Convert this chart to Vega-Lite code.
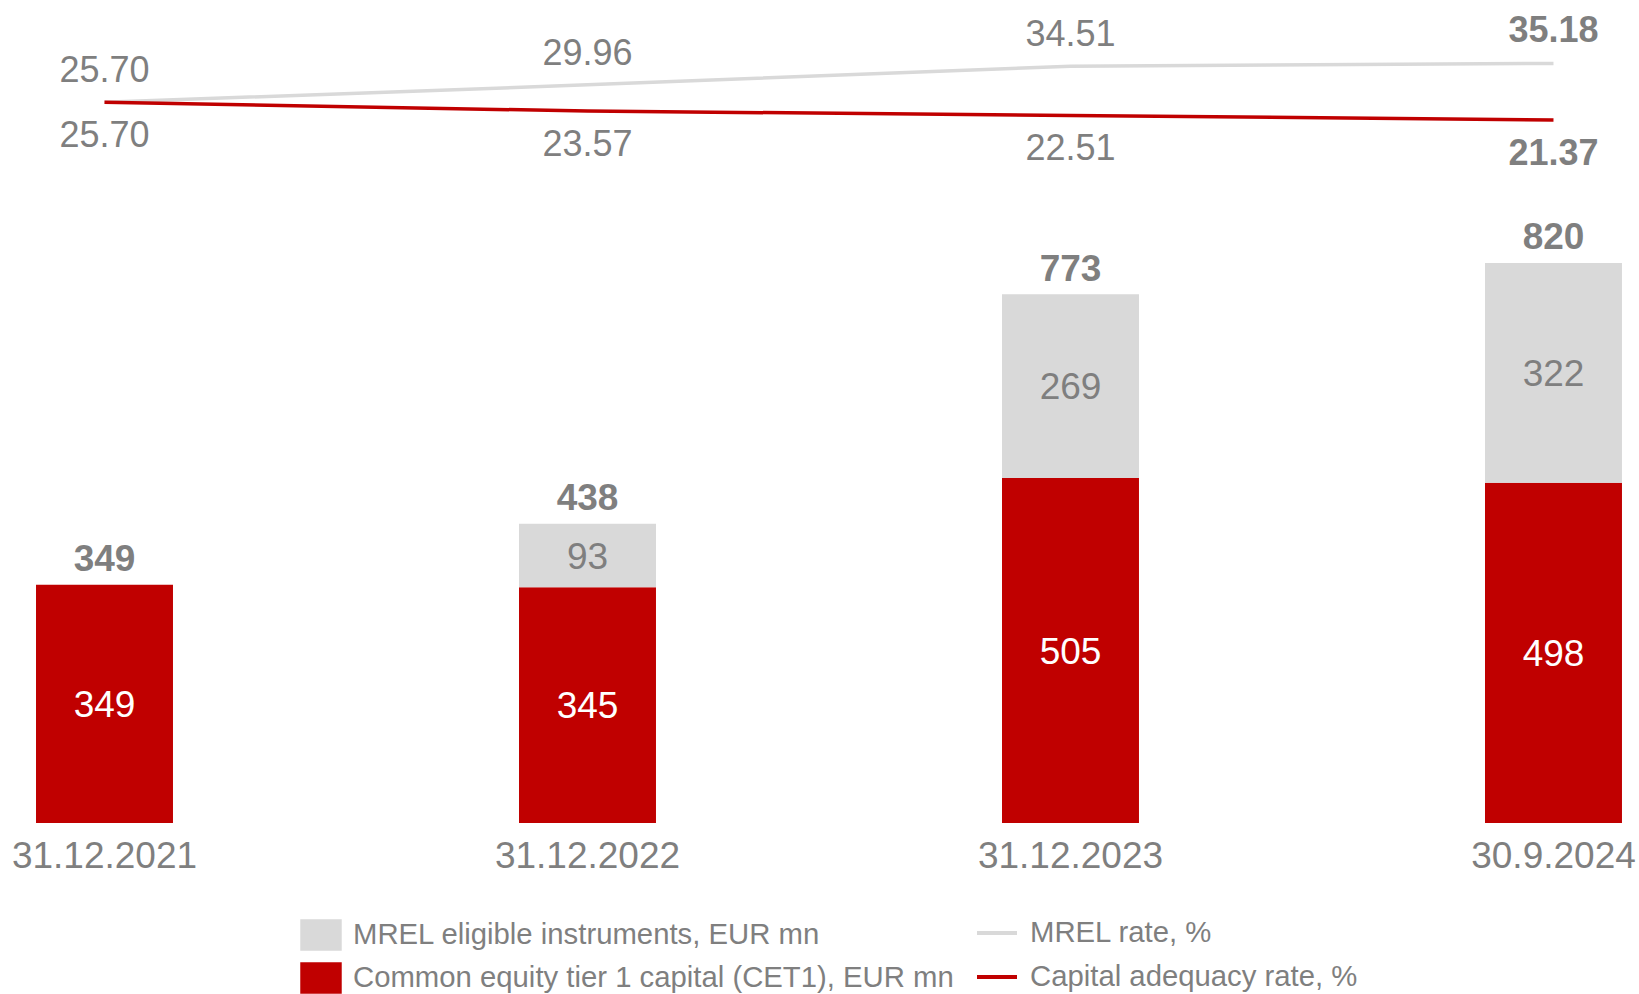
{
  "$schema": "https://vega.github.io/schema/vega-lite/v6.json",
  "width": 1639,
  "height": 823,
  "padding": 0,
  "background": "white",
  "config": {
    "view": {"stroke": null},
    "font": "Liberation Sans",
    "axis": {"grid": false, "domain": false, "ticks": false},
    "legend": {
      "labelFont": "Liberation Sans",
      "labelFontSize": 29.3,
      "labelColor": "#7f7f7f",
      "labelLimit": 1000,
      "padding": 0,
      "titlePadding": 0
    }
  },
  "datasets": {
    "bars": [
      {"date": "31.12.2021", "series": "Common equity tier 1 capital (CET1), EUR mn", "value": 349},
      {"date": "31.12.2022", "series": "Common equity tier 1 capital (CET1), EUR mn", "value": 345},
      {"date": "31.12.2022", "series": "MREL eligible instruments, EUR mn", "value": 93},
      {"date": "31.12.2023", "series": "Common equity tier 1 capital (CET1), EUR mn", "value": 505},
      {"date": "31.12.2023", "series": "MREL eligible instruments, EUR mn", "value": 269},
      {"date": "30.9.2024", "series": "Common equity tier 1 capital (CET1), EUR mn", "value": 498},
      {"date": "30.9.2024", "series": "MREL eligible instruments, EUR mn", "value": 322}
    ],
    "totals": [
      {"date": "31.12.2021", "total": 349},
      {"date": "31.12.2022", "total": 438},
      {"date": "31.12.2023", "total": 773},
      {"date": "30.9.2024", "total": 820}
    ],
    "rates": [
      {"date": "31.12.2021", "series": "MREL rate, %", "value": 25.70},
      {"date": "31.12.2022", "series": "MREL rate, %", "value": 29.96},
      {"date": "31.12.2023", "series": "MREL rate, %", "value": 34.51},
      {"date": "30.9.2024", "series": "MREL rate, %", "value": 35.18},
      {"date": "31.12.2021", "series": "Capital adequacy rate, %", "value": 25.70},
      {"date": "31.12.2022", "series": "Capital adequacy rate, %", "value": 23.57},
      {"date": "31.12.2023", "series": "Capital adequacy rate, %", "value": 22.51},
      {"date": "30.9.2024", "series": "Capital adequacy rate, %", "value": 21.37}
    ]
  },
  "encoding": {
    "x": {
      "field": "date",
      "type": "nominal",
      "sort": ["31.12.2021", "31.12.2022", "31.12.2023", "30.9.2024"],
      "scale": {"paddingInner": 0.7164, "paddingOuter": 0.0549, "align": 0.679},
      "axis": {
        "title": null,
        "labelAngle": 0,
        "labelFontSize": 37,
        "labelColor": "#7f7f7f",
        "labelFont": "Liberation Sans",
        "labelPadding": 15,
        "labelLimit": 400
      }
    }
  },
  "layer": [
    {
      "layer": [
        {
          "data": {"name": "bars"},
          "mark": {"type": "bar"},
          "encoding": {
            "y": {"field": "value", "type": "quantitative", "stack": "zero", "scale": {"domain": [0, 1205], "nice": false}, "axis": null},
            "fill": {
              "field": "series",
              "type": "nominal",
              "scale": {
                "domain": ["MREL eligible instruments, EUR mn", "Common equity tier 1 capital (CET1), EUR mn"],
                "range": ["#D9D9D9", "#C00000"]
              },
              "legend": {
                "orient": "none",
                "legendX": 300,
                "legendY": 914,
                "title": null,
                "direction": "vertical",
                "symbolType": "M-1,-0.76H1V0.76H-1Z",
                "symbolSize": 1720,
                "symbolStrokeWidth": 0,
                "symbolOpacity": 1,
                "rowPadding": 6,
                "labelOffset": 11
              }
            },
            "order": {"field": "series", "sort": "ascending"}
          }
        },
        {
          "data": {"name": "bars"},
          "mark": {"type": "text", "fontSize": 37, "baseline": "middle", "align": "center", "dy": 2},
          "encoding": {
            "y": {"field": "value", "type": "quantitative", "stack": "zero", "bandPosition": 0.5},
            "text": {"field": "value", "type": "quantitative"},
            "order": {"field": "series", "sort": "ascending"},
            "color": {
              "condition": {"test": "datum.series === 'Common equity tier 1 capital (CET1), EUR mn'", "value": "#ffffff"},
              "value": "#7f7f7f"
            }
          }
        },
        {
          "data": {"name": "totals"},
          "mark": {"type": "text", "fontSize": 37, "fontWeight": "bold", "baseline": "alphabetic", "align": "center", "dy": -14, "color": "#7f7f7f"},
          "encoding": {
            "y": {"field": "total", "type": "quantitative"},
            "text": {"field": "total", "type": "quantitative"}
          }
        }
      ]
    },
    {
      "layer": [
        {
          "data": {"name": "rates"},
          "mark": {"type": "line", "strokeWidth": 3.5},
          "encoding": {
            "y": {"field": "value", "type": "quantitative", "scale": {"domain": [-150.05, 50.65], "nice": false, "zero": false}, "axis": null},
            "stroke": {
              "field": "series",
              "type": "nominal",
              "sort": ["MREL rate, %", "Capital adequacy rate, %"],
              "scale": {
                "domain": ["MREL rate, %", "Capital adequacy rate, %"],
                "range": ["#D9D9D9", "#C00000"]
              },
              "legend": {
                "orient": "none",
                "legendX": 975,
                "legendY": 911,
                "title": null,
                "direction": "vertical",
                "symbolType": "stroke",
                "symbolSize": 1600,
                "symbolStrokeWidth": 4,
                "rowPadding": 6,
                "labelOffset": 11
              }
            }
          }
        },
        {
          "data": {"name": "rates"},
          "transform": [{"filter": "datum.series === 'MREL rate, %' && datum.date !== '30.9.2024'"}],
          "mark": {"type": "text", "fontSize": 36, "baseline": "alphabetic", "align": "center", "dy": -20, "color": "#7f7f7f"},
          "encoding": {
            "y": {"field": "value", "type": "quantitative"},
            "text": {"field": "value", "type": "quantitative", "format": ".2f"}
          }
        },
        {
          "data": {"name": "rates"},
          "transform": [{"filter": "datum.series === 'MREL rate, %' && datum.date === '30.9.2024'"}],
          "mark": {"type": "text", "fontSize": 36, "fontWeight": "bold", "baseline": "alphabetic", "align": "center", "dy": -21, "color": "#7f7f7f"},
          "encoding": {
            "y": {"field": "value", "type": "quantitative"},
            "text": {"field": "value", "type": "quantitative", "format": ".2f"}
          }
        },
        {
          "data": {"name": "rates"},
          "transform": [{"filter": "datum.series === 'Capital adequacy rate, %' && datum.date !== '30.9.2024'"}],
          "mark": {"type": "text", "fontSize": 36, "baseline": "alphabetic", "align": "center", "dy": 45, "color": "#7f7f7f"},
          "encoding": {
            "y": {"field": "value", "type": "quantitative"},
            "text": {"field": "value", "type": "quantitative", "format": ".2f"}
          }
        },
        {
          "data": {"name": "rates"},
          "transform": [{"filter": "datum.series === 'Capital adequacy rate, %' && datum.date === '30.9.2024'"}],
          "mark": {"type": "text", "fontSize": 36, "fontWeight": "bold", "baseline": "alphabetic", "align": "center", "dy": 45, "color": "#7f7f7f"},
          "encoding": {
            "y": {"field": "value", "type": "quantitative"},
            "text": {"field": "value", "type": "quantitative", "format": ".2f"}
          }
        }
      ]
    }
  ],
  "resolve": {"scale": {"y": "independent"}}
}
